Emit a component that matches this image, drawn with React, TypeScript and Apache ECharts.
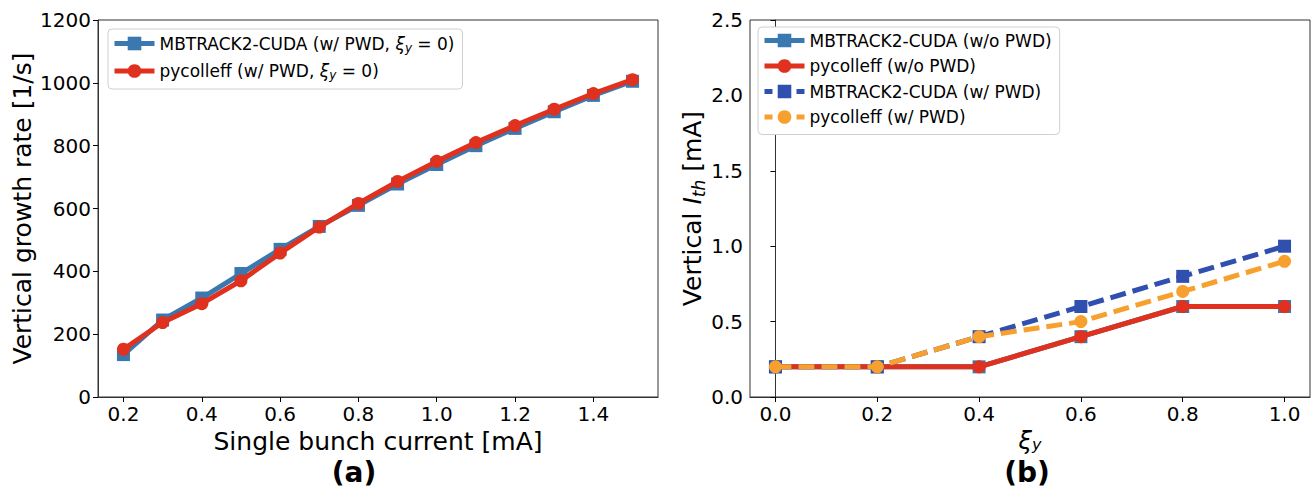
import React, { useEffect, useRef } from "react";
import * as echarts from "echarts";

// ---- Panel (a) data ----
const currentA = [0.2, 0.3, 0.4, 0.5, 0.6, 0.7, 0.8, 0.9, 1.0, 1.1, 1.2, 1.3, 1.4, 1.5];
const mbtrackA = [135, 245, 315, 393, 470, 543, 610, 678, 740, 800, 855, 908, 960, 1005];
const pycolleffA = [152, 237, 297, 370, 458, 541, 616, 686, 750, 810, 864, 916, 966, 1010];
const xTicksA = [0.2, 0.4, 0.6, 0.8, 1.0, 1.2, 1.4];

// ---- Panel (b) data ----
const xiB = [0.0, 0.2, 0.4, 0.6, 0.8, 1.0];
const mbtrackNoPWD = [0.2, 0.2, 0.2, 0.4, 0.6, 0.6];
const pycolleffNoPWD = [0.2, 0.2, 0.2, 0.4, 0.6, 0.6];
const mbtrackPWD = [0.2, 0.2, 0.4, 0.6, 0.8, 1.0];
const pycolleffPWD = [0.2, 0.2, 0.4, 0.5, 0.7, 0.9];
const xTicksB = [0.0, 0.2, 0.4, 0.6, 0.8, 1.0];

const FONT = "DejaVu Sans";
const C_STEEL = "#3a78b0";
const C_RED = "#e0301e";
const C_NAVY = "#3050b0";
const C_ORANGE = "#f8a02e";
const DASH = [16, 7];
const LEGEND_DASH = [8, 8];

const pairs = (xs: number[], ys: number[]) => xs.map((x, i) => [x, ys[i]]);

export default function App() {
  const ref = useRef<HTMLDivElement>(null);
  useEffect(() => {
    if (!ref.current) return;
    const chart = echarts.init(ref.current, null, { renderer: "svg" });
    const tickLabel = { color: "#000", fontSize: 20, fontFamily: FONT };
    const axisLine = { show: true, lineStyle: { color: "#333", width: 1 } };
    const axisTick = { show: true, length: 5, lineStyle: { color: "#000" } };
    const legendRich = {
      n: { fontSize: 17, fontFamily: FONT, color: "#000" },
      i: { fontSize: 17, fontFamily: FONT, fontStyle: "italic", color: "#000" },
      s: { fontSize: 12, fontFamily: FONT, fontStyle: "italic", color: "#000", padding: [8, 0, 0, 0] },
    };
    const option: any = {
      animation: false,
      backgroundColor: "#fff",
      grid: [
        { left: 98, top: 20, width: 560, height: 377, show: true, borderColor: "#333", borderWidth: 1, containLabel: false },
        { left: 750, top: 20, width: 560, height: 377, show: true, borderColor: "#333", borderWidth: 1, containLabel: false },
      ],
      xAxis: [
        {
          type: "value", gridIndex: 0, min: 0.135, max: 1.565,
          axisLine, axisTick: { ...axisTick, customValues: xTicksA },
          splitLine: { show: false },
          axisLabel: { ...tickLabel, customValues: xTicksA, formatter: (v: number) => v.toFixed(1), margin: 7 },
          name: "Single bunch current [mA]", nameLocation: "middle", nameGap: 24,
          nameTextStyle: { fontSize: 25, fontFamily: FONT, color: "#000", lineHeight: 26 },
        },
        {
          type: "value", gridIndex: 1, min: -0.05, max: 1.05,
          axisLine, axisTick: { ...axisTick, customValues: xTicksB },
          splitLine: { show: false },
          axisLabel: { ...tickLabel, customValues: xTicksB, formatter: (v: number) => v.toFixed(1), margin: 7 },
          name: "{i|ξ}{s|y}", nameLocation: "middle", nameGap: 24,
          nameTextStyle: {
            fontSize: 24, fontFamily: FONT, color: "#000",
            rich: {
              i: { fontSize: 24, fontFamily: FONT, fontStyle: "italic", color: "#000", lineHeight: 26 },
              s: { fontSize: 16, fontFamily: FONT, fontStyle: "italic", color: "#000", padding: [7, 0, 0, 0], lineHeight: 18 },
            },
          },
        },
      ],
      yAxis: [
        {
          type: "value", gridIndex: 0, min: 0, max: 1200, interval: 200,
          axisLine, axisTick, splitLine: { show: false },
          axisLabel: { ...tickLabel, margin: 7, formatter: (v: number) => String(v) },
          name: "Vertical growth rate [1/s]", nameLocation: "middle", nameGap: 63, nameRotate: 90,
          nameTextStyle: { fontSize: 25, fontFamily: FONT, color: "#000" },
        },
        {
          type: "value", gridIndex: 1, min: 0, max: 2.5, interval: 0.5,
          axisLine, axisTick, splitLine: { show: false },
          axisLabel: { ...tickLabel, margin: 7, formatter: (v: number) => v.toFixed(1) },
          name: "{n|Vertical }{i|I}{s|th}{n| [mA]}", nameLocation: "middle", nameGap: 41, nameRotate: 90,
          nameTextStyle: {
            fontSize: 25, fontFamily: FONT, color: "#000",
            rich: {
              n: { fontSize: 25, fontFamily: FONT, color: "#000" },
              i: { fontSize: 25, fontFamily: FONT, fontStyle: "italic", color: "#000" },
              s: { fontSize: 17, fontFamily: FONT, fontStyle: "italic", color: "#000", padding: [12, 0, 0, 0] },
            },
          },
        },
      ],
      legend: [
        {
          left: 108, top: 29, orient: "vertical",
          data: ["MBTRACK2-CUDA (w/ PWD, xi=0)", "pycolleff (w/ PWD, xi=0)"],
          backgroundColor: "#fff", borderColor: "#d0d0d0", borderWidth: 1, borderRadius: 4,
          padding: [6, 8, 8, 4], itemGap: 9, itemWidth: 40, itemHeight: 17,
          lineStyle: { width: 5 },
          formatter: (name: string) =>
            name.startsWith("MBTRACK2")
              ? "{n|MBTRACK2-CUDA (w/ PWD, }{i|ξ}{s|y}{n| = 0)}"
              : "{n|pycolleff (w/ PWD, }{i|ξ}{s|y}{n| = 0)}",
          textStyle: { fontSize: 17, fontFamily: FONT, color: "#000", rich: legendRich },
        },
        {
          left: 758, top: 27, orient: "vertical",
          data: [
            { name: "MBTRACK2-CUDA (w/o PWD)" },
            { name: "pycolleff (w/o PWD)" },
            { name: "MBTRACK2-CUDA (w/ PWD)", lineStyle: { type: LEGEND_DASH } },
            { name: "pycolleff (w/ PWD)", lineStyle: { type: LEGEND_DASH } },
          ],
          backgroundColor: "#fff", borderColor: "#d0d0d0", borderWidth: 1, borderRadius: 4,
          padding: [5, 8, 9, 4], itemGap: 8.5, itemWidth: 40, itemHeight: 17,
          lineStyle: { width: 5 },
          textStyle: { fontSize: 17, fontFamily: FONT, color: "#000" },
        },
      ],
      series: [
        {
          name: "MBTRACK2-CUDA (w/ PWD, xi=0)", type: "line", xAxisIndex: 0, yAxisIndex: 0,
          data: pairs(currentA, mbtrackA), symbol: "rect", symbolSize: 13,
          lineStyle: { color: C_STEEL, width: 5 }, itemStyle: { color: C_STEEL }, z: 2,
        },
        {
          name: "pycolleff (w/ PWD, xi=0)", type: "line", xAxisIndex: 0, yAxisIndex: 0,
          data: pairs(currentA, pycolleffA), symbol: "circle", symbolSize: 13,
          lineStyle: { color: C_RED, width: 5 }, itemStyle: { color: C_RED }, z: 3,
        },
        {
          name: "MBTRACK2-CUDA (w/o PWD)", type: "line", xAxisIndex: 1, yAxisIndex: 1,
          data: pairs(xiB, mbtrackNoPWD), symbol: "rect", symbolSize: 13,
          lineStyle: { color: C_STEEL, width: 5 }, itemStyle: { color: C_STEEL }, z: 2,
        },
        {
          name: "pycolleff (w/o PWD)", type: "line", xAxisIndex: 1, yAxisIndex: 1,
          data: pairs(xiB, pycolleffNoPWD), symbol: "circle", symbolSize: 13,
          lineStyle: { color: C_RED, width: 5 }, itemStyle: { color: C_RED }, z: 3,
        },
        {
          name: "MBTRACK2-CUDA (w/ PWD)", type: "line", xAxisIndex: 1, yAxisIndex: 1,
          data: pairs(xiB, mbtrackPWD), symbol: "rect", symbolSize: 13,
          lineStyle: { color: C_NAVY, width: 5, type: DASH }, itemStyle: { color: C_NAVY }, z: 4,
        },
        {
          name: "pycolleff (w/ PWD)", type: "line", xAxisIndex: 1, yAxisIndex: 1,
          data: pairs(xiB, pycolleffPWD), symbol: "circle", symbolSize: 13,
          lineStyle: { color: C_ORANGE, width: 5, type: DASH }, itemStyle: { color: C_ORANGE }, z: 5,
        },
      ],
      graphic: [
        { type: "text", x: 354, y: 472, style: { text: "(a)", font: `bold 28px '${FONT}'`, fill: "#000", align: "center", verticalAlign: "middle", lineHeight: 28 } },
        { type: "text", x: 1027, y: 472, style: { text: "(b)", font: `bold 28px '${FONT}'`, fill: "#000", align: "center", verticalAlign: "middle", lineHeight: 28 } },
      ],
    };
    chart.setOption(option);
    return () => chart.dispose();
  }, []);
  return <div ref={ref} style={{ position: "fixed", left: 0, top: 0, width: 1316, height: 488 }} />;
}
